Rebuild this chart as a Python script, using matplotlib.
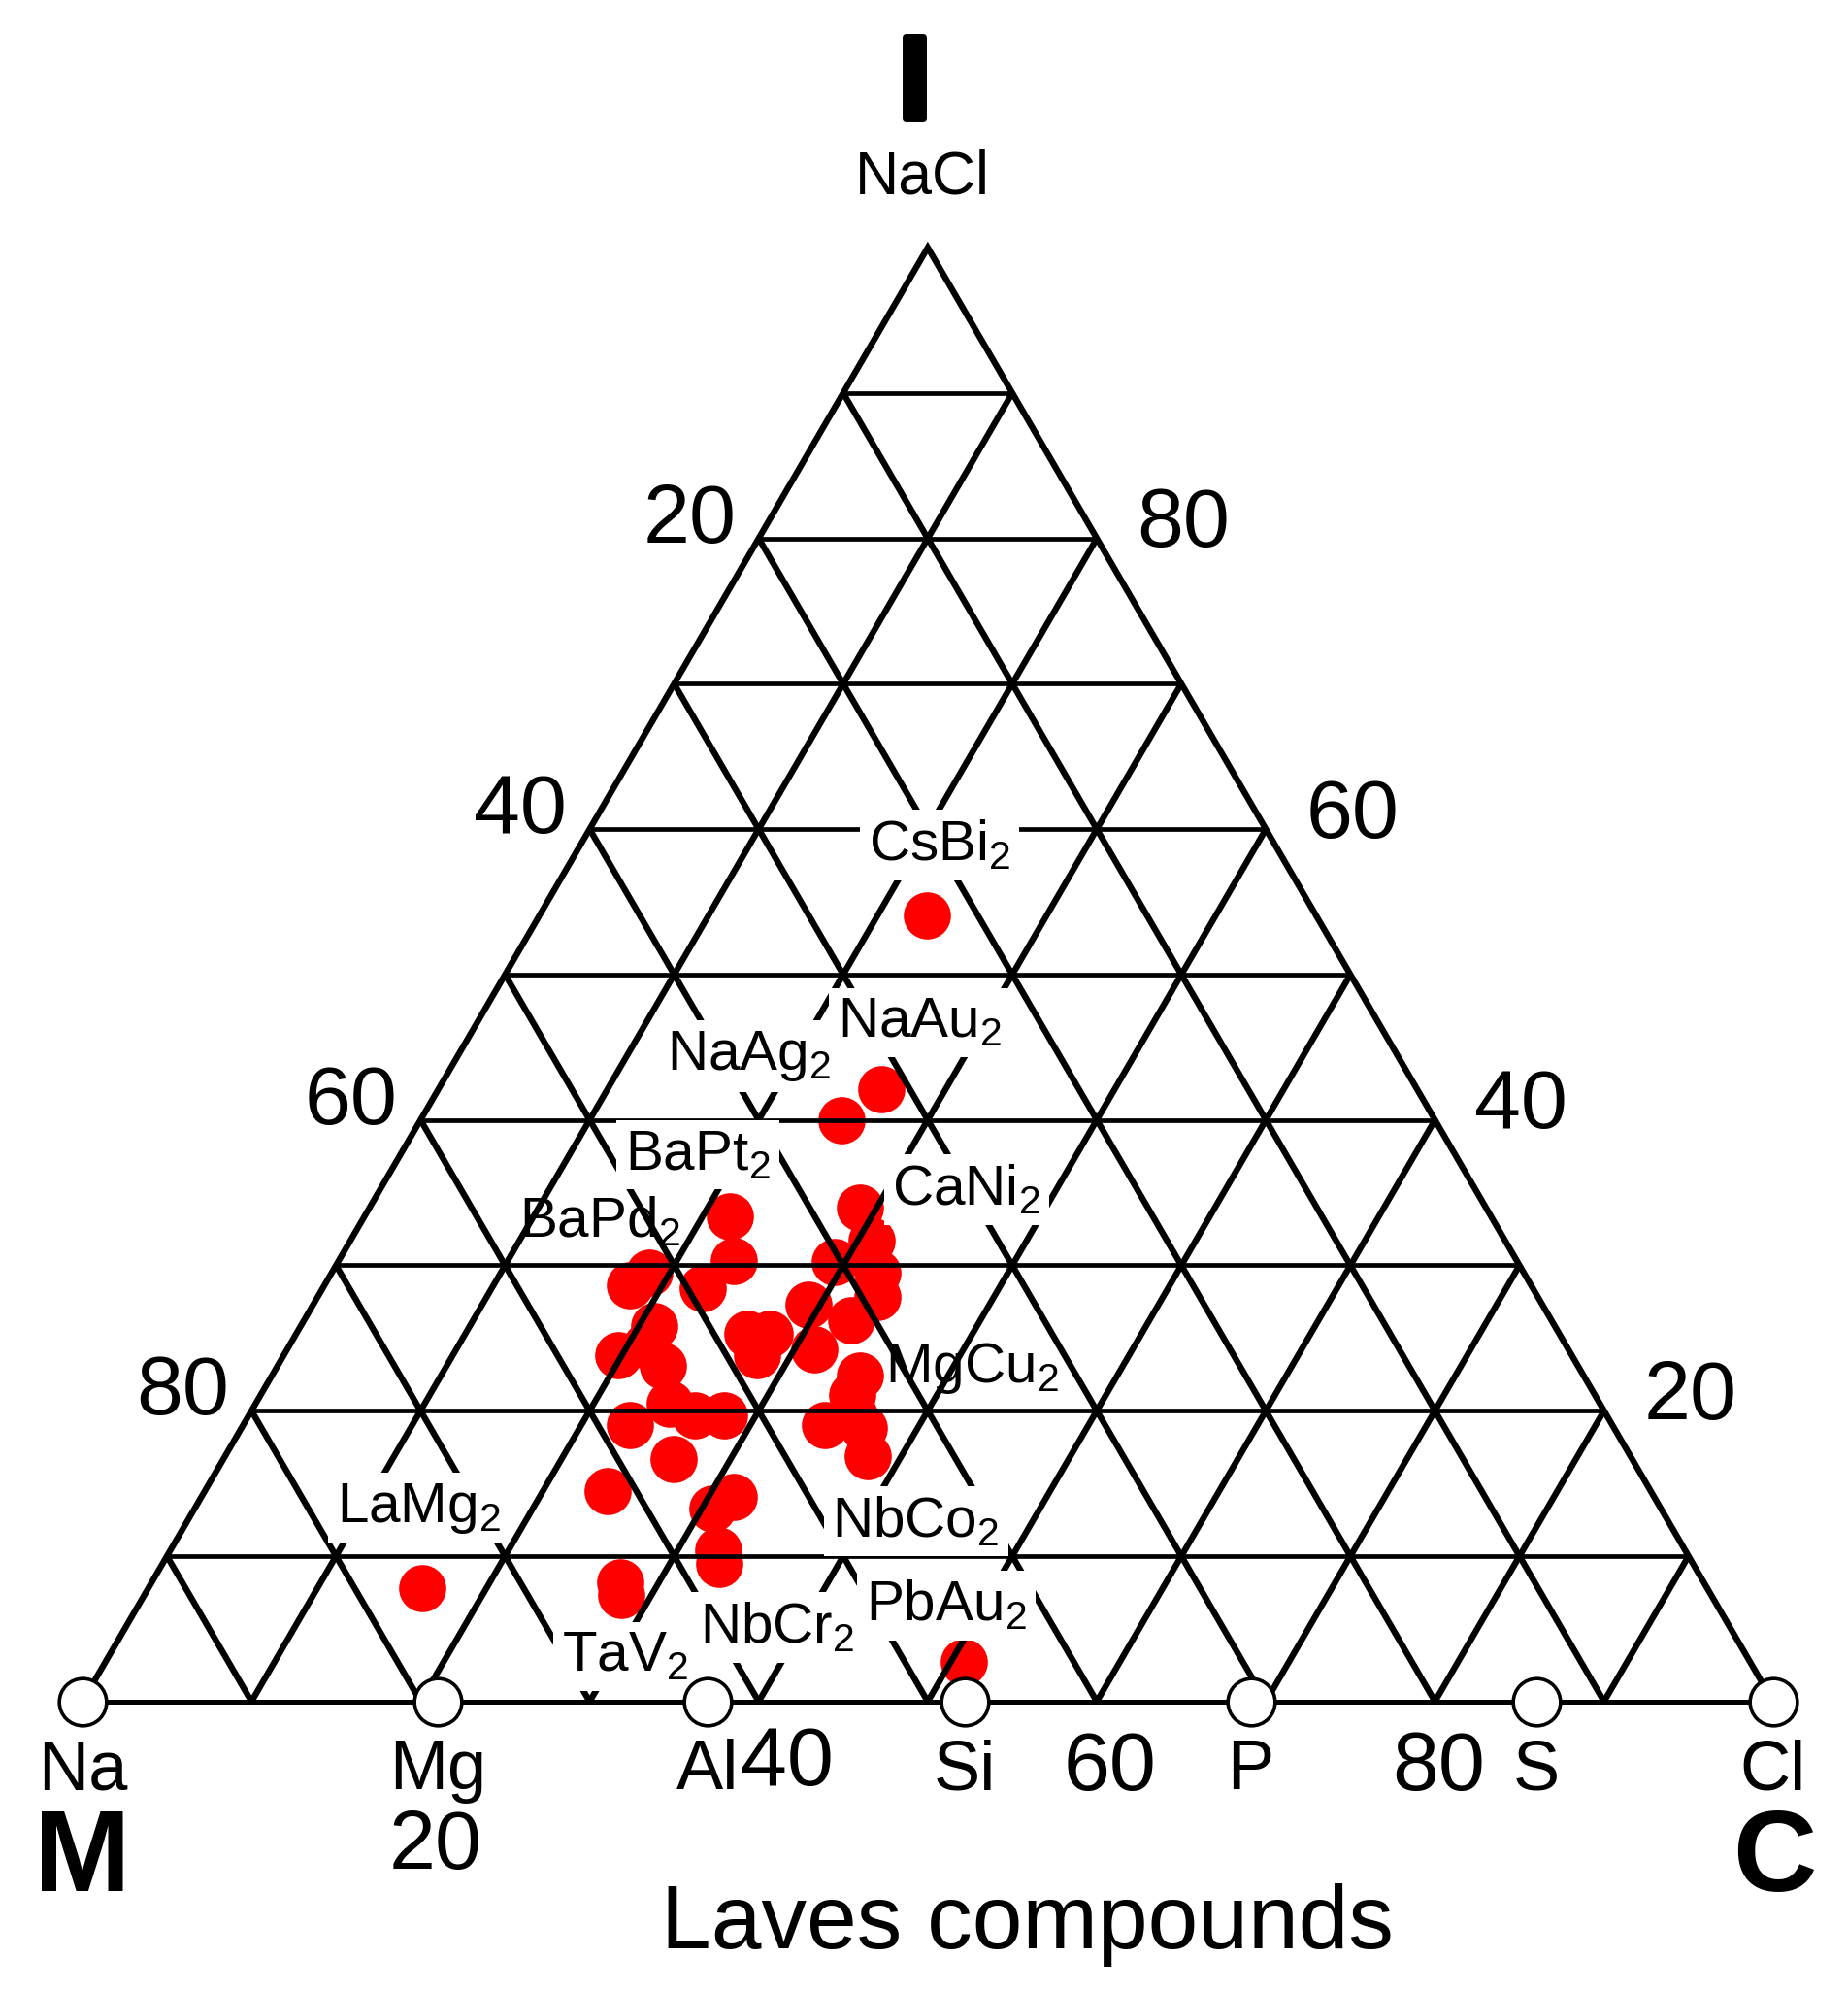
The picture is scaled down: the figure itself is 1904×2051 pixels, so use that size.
import numpy as np
import matplotlib
matplotlib.use("Agg")
import matplotlib.pyplot as plt
import matplotlib.patheffects as pe

# fonts: Arial-like
plt.rcParams['font.family'] = ['Liberation Sans', 'DejaVu Sans']
plt.rcParams['mathtext.fontset'] = 'custom'
plt.rcParams['mathtext.rm'] = 'Liberation Sans'
plt.rcParams['mathtext.it'] = 'Liberation Sans:italic'
plt.rcParams['mathtext.bf'] = 'Liberation Sans:bold'

# ---- data (percent of C corner and I corner, M = 100 - C - I) ----
laves_C = [22.9, 26.2, 24.9, 21.6, 29.0, 23.4, 22.5, 18.8, 18.1, 20.9,
           19.8, 22.8, 21.1, 22.9, 24.5, 26.4, 28.1, 26.6, 23.8, 31.5,
           30.6, 32.4, 32.9, 27.7, 28.2, 30.8, 29.4, 32.3, 33.1, 29.3,
           32.4, 28.0, 31.2, 26.7, 28.0, 34.8, 35.0, 34.4, 36.8, 38.0,
           35.8, 16.2, 50.8]
laves_I = [54.1, 42.1, 40.0, 33.4, 34.0, 30.3, 28.4, 29.5, 28.6, 25.8,
           23.8, 23.1, 24.5, 19.0, 20.5, 19.7, 19.7, 16.7, 14.5, 14.1,
           13.3, 10.4, 9.5, 8.2, 7.3, 31.7, 30.2, 29.5, 27.8, 27.3,
           26.2, 25.3, 24.2, 25.3, 23.8, 22.4, 21.1, 19.0, 18.8, 16.9,
           19.7, 7.8, 2.7]

# elements on the M-C edge
elements = ['Na', 'Mg', 'Al', 'Si', 'P', 'S', 'Cl']
element_C = [0.0, 21.0, 37.0, 52.2, 69.1, 86.0, 100.0]

compounds = ['CsBi', 'NaAu', 'NaAg', 'BaPt', 'BaPd', 'CaNi', 'MgCu',
             'LaMg', 'NbCo', 'PbAu', 'NbCr', 'TaV']

grid_ticks = [20, 40, 60, 80]


def tern(C, I):
    C = np.asarray(C, dtype=float)
    I = np.asarray(I, dtype=float)
    return C + I / 2.0, I


fig = plt.figure(figsize=(19.04, 20.51), dpi=100)
ax = fig.add_axes([0, 0, 1, 1])
ax.set_xlim(-4.875, 104.43)
ax.set_ylim(-19.91, 117.03)
ax.axis('off')

# grid lines every 10 %
for k in range(1, 10):
    v = 10.0 * k
    ax.plot(*tern([0, 100 - v], [v, v]), color='k', lw=3.4, zorder=2,
            solid_capstyle='butt')
    ax.plot(*tern([v, v], [0, 100 - v]), color='k', lw=4.6, zorder=2,
            solid_capstyle='butt')
    ax.plot(*tern([100 - v, 0], [0, 100 - v]), color='k', lw=4.6, zorder=2,
            solid_capstyle='butt')

# outer triangle
ax.plot(*tern([0, 100], [0, 0]), color='k', lw=3.6, zorder=2)
ax.plot(*tern([0, 0, 100], [0, 100, 0]), color='k', lw=4.6, zorder=2,
        solid_joinstyle='miter')

# Laves compounds
lx, ly = tern(laves_C, laves_I)
ax.scatter(lx, ly, s=35 ** 2, color='red', linewidths=0, zorder=1)

# element circles
ex, ey = tern(element_C, np.zeros(len(element_C)))
ax.scatter(ex, ey, s=35 ** 2, facecolor='white', edgecolor='black',
           linewidths=2.6, zorder=4)
for name, x in zip(elements, ex):
    ax.text(x, -4.8, name, fontsize=52, ha='center', va='center', zorder=5)

# compound labels (x, y in plot units, boxed = hides grid lines)
label_pos = {
    'CsBi': (50.7, 58.9, True), 'NaAu': (49.5, 46.7, True),
    'NaAg': (39.4, 44.4, True), 'BaPt': (36.4, 37.6, True),
    'BaPd': (30.6, 33.0, False), 'CaNi': (52.3, 35.2, True),
    'MgCu': (52.6, 22.9, False), 'LaMg': (19.9, 13.3, True),
    'NbCo': (49.3, 12.4, True), 'PbAu': (51.1, 6.6, True),
    'NbCr': (41.1, 5.1, True), 'TaV': (32.1, 3.1, True),
}
for name in compounds:
    x, y, boxed = label_pos[name]
    kw = {}
    if boxed:
        kw['bbox'] = dict(boxstyle='square,pad=0.15', fc='white', ec='none')
    ax.text(x, y, name + r'$_\mathregular{2}$', fontsize=42, ha='center',
            va='center', zorder=3 if boxed else 5, **kw)

# tick numbers
for t in grid_ticks:
    # left edge: M %
    x, y = tern(0, 100 - t)
    ax.text(x - 4.1, y + 1.2, str(t), fontsize=62, ha='center', va='center')
    # right edge: I %
    x, y = tern(100 - t, t)
    ax.text(x + 5.1, y + 0.9, str(t), fontsize=62, ha='center', va='center')
bottom_pos = {20: (20.9, -10.0), 40: (41.7, -4.3), 60: (60.8, -4.6), 80: (80.2, -4.6)}
for t in grid_ticks:
    x, y = bottom_pos[t]
    ax.text(x, y, str(t), fontsize=62, ha='center', va='center')

# corner names
ax.text(49.2, 111.0, 'I', fontsize=88, fontweight='bold', ha='center', va='center',
        path_effects=[pe.withStroke(linewidth=5, foreground='black', capstyle='round')])
ax.text(49.7, 104.8, 'NaCl', fontsize=45, ha='center', va='center')
ax.text(0.0, -11.0, 'M', fontsize=86, fontweight='bold', ha='center', va='center')
ax.text(100.1, -11.0, 'C', fontsize=86, fontweight='bold', ha='center', va='center')
ax.text(55.9, -15.4, 'Laves compounds', fontsize=67, ha='center', va='center')

fig.savefig('out.png', dpi=100, facecolor='white')
